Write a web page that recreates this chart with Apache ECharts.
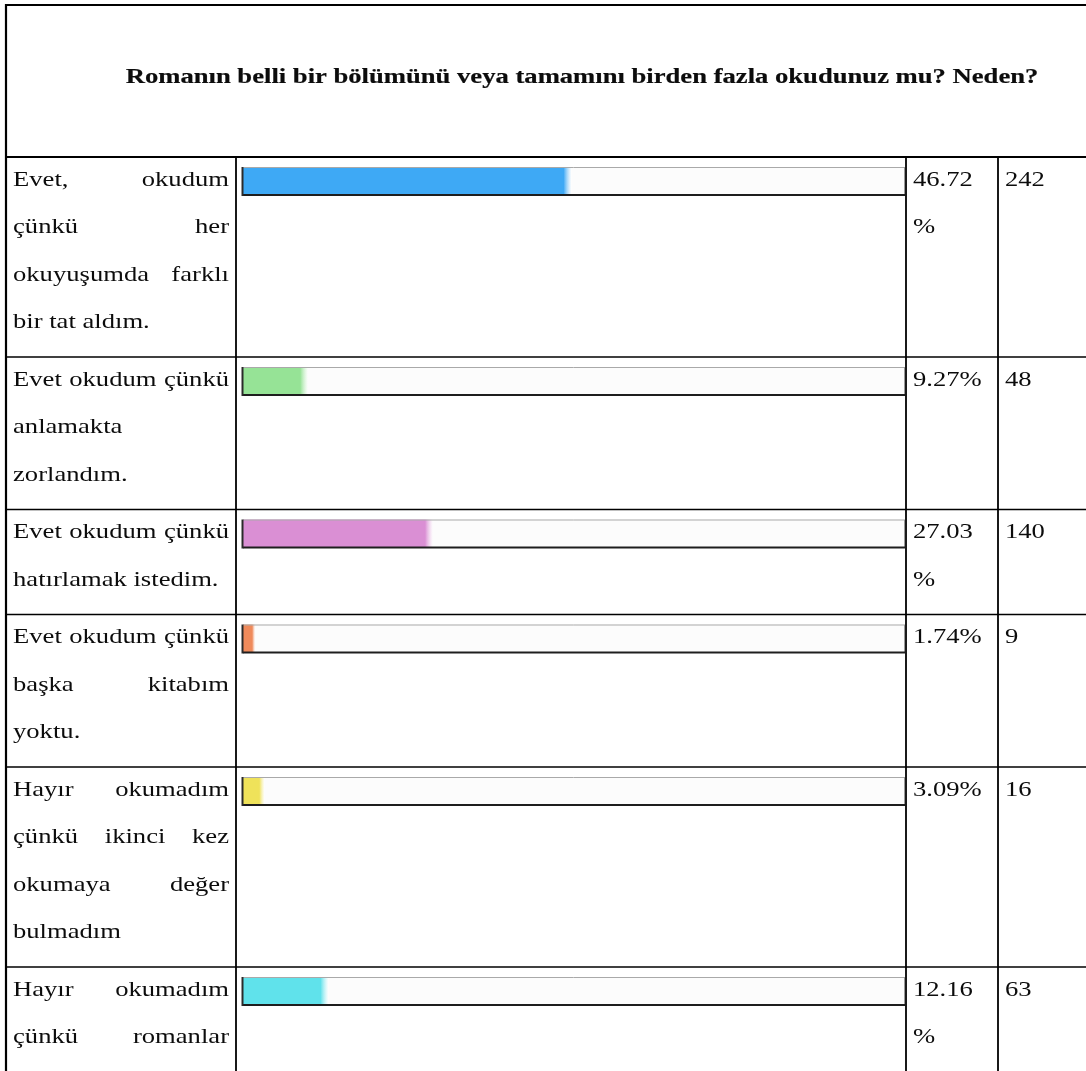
<!DOCTYPE html>
<html>
<head>
<meta charset="utf-8">
<script src="https://cdn.jsdelivr.net/npm/echarts@6/dist/echarts.min.js"></script>
<style>
  html, body { margin: 0; padding: 0; background: #ffffff; }
  #chart { width: 1086px; height: 1071px; }
</style>
</head>
<body>
<div id="chart"></div>
<script>
// Survey question and answers
const title = 'Romanın belli bir bölümünü veya tamamını birden fazla okudunuz mu? Neden?';
const answerLines = [
  ['Evet, okudum', 'çünkü her', 'okuyuşumda farklı', 'bir tat aldım.'],
  ['Evet okudum çünkü', 'anlamakta', 'zorlandım.'],
  ['Evet okudum çünkü', 'hatırlamak istedim.'],
  ['Evet okudum çünkü', 'başka kitabım', 'yoktu.'],
  ['Hayır okumadım', 'çünkü ikinci kez', 'okumaya değer', 'bulmadım'],
  ['Hayır okumadım', 'çünkü romanlar']
];
const answerContinues = [false, false, false, false, false, true];
const categories = answerLines.map(function (l) { return l.join(' '); });
const percentages = [46.72, 9.27, 27.03, 1.74, 3.09, 12.16];
const counts = [242, 48, 140, 9, 16, 63];
const barColors = ['#3ea9f5', '#96e396', '#da8fd4', '#ef8a5b', '#efe25a', '#60e2eb'];

// Table geometry
const W = 1086, H = 1071;
const BORDER_X = 6, TOP_Y = 5, HEAD_Y = 157;
const COL_LABEL = 236, COL_PCT = 906, COL_CNT = 998;
const TRACK_X0 = 243, TRACK_X1 = 904, BAR_H = 28;
const AXIS_MAX = 94;
const LINE_H = 47.5, ROW_PAD = 10;
const FONT = "22px 'Liberation Serif', 'Times New Roman', serif";
const FONT_BOLD = "bold 22px 'Liberation Serif', 'Times New Roman', serif";
const SX = 1.21;
const INK = '#0c0c0c';

const measureCtx = document.createElement('canvas').getContext('2d');
function textWidth(s, font) {
  measureCtx.font = font;
  return measureCtx.measureText(s).width * SX;
}

function textEl(s, x, y, font, align, weight) {
  return {
    type: 'text', x: x, y: y, scaleX: SX, silent: true,
    style: {
      text: s, font: font, fill: INK, stroke: INK, lineWidth: weight || 0,
      align: align || 'left', verticalAlign: 'middle',
      textAlign: align || 'left', textVerticalAlign: 'middle'
    }
  };
}

// row tops
const rowTops = [];
let yCursor = HEAD_Y;
answerLines.forEach(function (lines) {
  rowTops.push(yCursor);
  yCursor += ROW_PAD + LINE_H * lines.length;
});

const graphics = [];
const lines = [];
function hline(x1, x2, y, w, c) {
  lines.push({ type: 'line', silent: true, shape: { x1: x1, y1: y, x2: x2, y2: y }, style: { stroke: c || '#000', lineWidth: w } });
}
function vline(x, y1, y2, w, c) {
  lines.push({ type: 'line', silent: true, shape: { x1: x, y1: y1, x2: x, y2: y2 }, style: { stroke: c || '#000', lineWidth: w } });
}

// outer frame and title rule
hline(BORDER_X - 1, W, TOP_Y, 2.2);
vline(BORDER_X, TOP_Y - 1, H, 2.2);
hline(BORDER_X, W, HEAD_Y, 2.2);
rowTops.slice(1).forEach(function (y) { hline(BORDER_X, W, y, 1.6); });
[COL_LABEL, COL_PCT, COL_CNT].forEach(function (x) { vline(x, HEAD_Y, H, 1.8); });

// title
graphics.push(textEl(title, 582, 77, FONT_BOLD, 'center', 0.2));

// answer text (justified within the label column)
const TXT_X0 = 13, TXT_X1 = 229;
answerLines.forEach(function (rowLines, r) {
  rowLines.forEach(function (line, li) {
    const y = rowTops[r] + 23 + li * LINE_H;
    const words = line.split(' ');
    const isLast = li === rowLines.length - 1 && !answerContinues[r];
    if (isLast || words.length < 2) {
      graphics.push(textEl(line, TXT_X0, y, FONT, 'left'));
      return;
    }
    const widths = words.map(function (w) { return textWidth(w, FONT); });
    const total = widths.reduce(function (a, b) { return a + b; }, 0);
    const gap = (TXT_X1 - TXT_X0 - total) / (words.length - 1);
    let x = TXT_X0;
    words.forEach(function (w, wi) {
      graphics.push(textEl(w, x, y, FONT, 'left'));
      x += widths[wi] + gap;
    });
  });
});

// percentage and count columns
percentages.forEach(function (p, r) {
  const y = rowTops[r] + 23;
  const label = p.toFixed(2) + '%';
  if (textWidth(label, FONT) > COL_CNT - COL_PCT - 12) {
    graphics.push(textEl(p.toFixed(2), 913, y, FONT, 'left'));
    graphics.push(textEl('%', 913, y + LINE_H, FONT, 'left'));
  } else {
    graphics.push(textEl(label, 913, y, FONT, 'left'));
  }
  graphics.push(textEl(String(counts[r]), 1005, y, FONT, 'left'));
});

// bar tracks: bevelled frame around each bar
const trackFrames = [];
rowTops.forEach(function (top) {
  const y0 = top + 10, y1 = y0 + BAR_H;
  trackFrames.push({ type: 'line', silent: true, z: 10, shape: { x1: TRACK_X0, y1: y0 + 0.5, x2: TRACK_X1, y2: y0 + 0.5 }, style: { stroke: '#a9a9a9', lineWidth: 1 } });
  trackFrames.push({ type: 'line', silent: true, z: 10, shape: { x1: TRACK_X1 + 0.5, y1: y0, x2: TRACK_X1 + 0.5, y2: y1 }, style: { stroke: '#9a9a9a', lineWidth: 1 } });
  trackFrames.push({ type: 'line', silent: true, z: 10, shape: { x1: TRACK_X0, y1: y1, x2: TRACK_X1 + 1, y2: y1 }, style: { stroke: '#1e1e1e', lineWidth: 2 } });
  trackFrames.push({ type: 'line', silent: true, z: 10, shape: { x1: TRACK_X0 - 0.5, y1: y0, x2: TRACK_X0 - 0.5, y2: y1 + 1 }, style: { stroke: '#2a2a2a', lineWidth: 2 } });
});

// one grid per answer so each bar sits at the top of its row
const grids = [], xAxes = [], yAxes = [], series = [];
percentages.forEach(function (p, i) {
  const top = rowTops[i] + 10;
  grids.push({ left: TRACK_X0, width: TRACK_X1 - TRACK_X0, top: top, height: BAR_H, containLabel: false });
  xAxes.push({ gridIndex: i, type: 'value', min: 0, max: AXIS_MAX, show: false });
  yAxes.push({ gridIndex: i, type: 'category', data: [categories[i]], show: false });
  const px = p / AXIS_MAX * (TRACK_X1 - TRACK_X0);
  const fade = Math.min(8, px * 0.25) / px;
  series.push({
    type: 'bar', xAxisIndex: i, yAxisIndex: i,
    data: [p], barWidth: BAR_H, silent: true,
    showBackground: true,
    backgroundStyle: { color: '#fcfcfc' },
    itemStyle: {
      color: new echarts.graphic.LinearGradient(0, 0, 1, 0, [
        { offset: 0, color: barColors[i] },
        { offset: 1 - fade, color: barColors[i] },
        { offset: 1, color: 'rgba(255,255,255,0.6)' }
      ])
    }
  });
});

const chart = echarts.init(document.getElementById('chart'), null, { renderer: 'canvas' });
chart.setOption({
  animation: false,
  backgroundColor: '#ffffff',
  grid: grids,
  xAxis: xAxes,
  yAxis: yAxes,
  series: series,
  graphic: { elements: lines.concat(trackFrames, graphics) }
});
</script>
</body>
</html>
